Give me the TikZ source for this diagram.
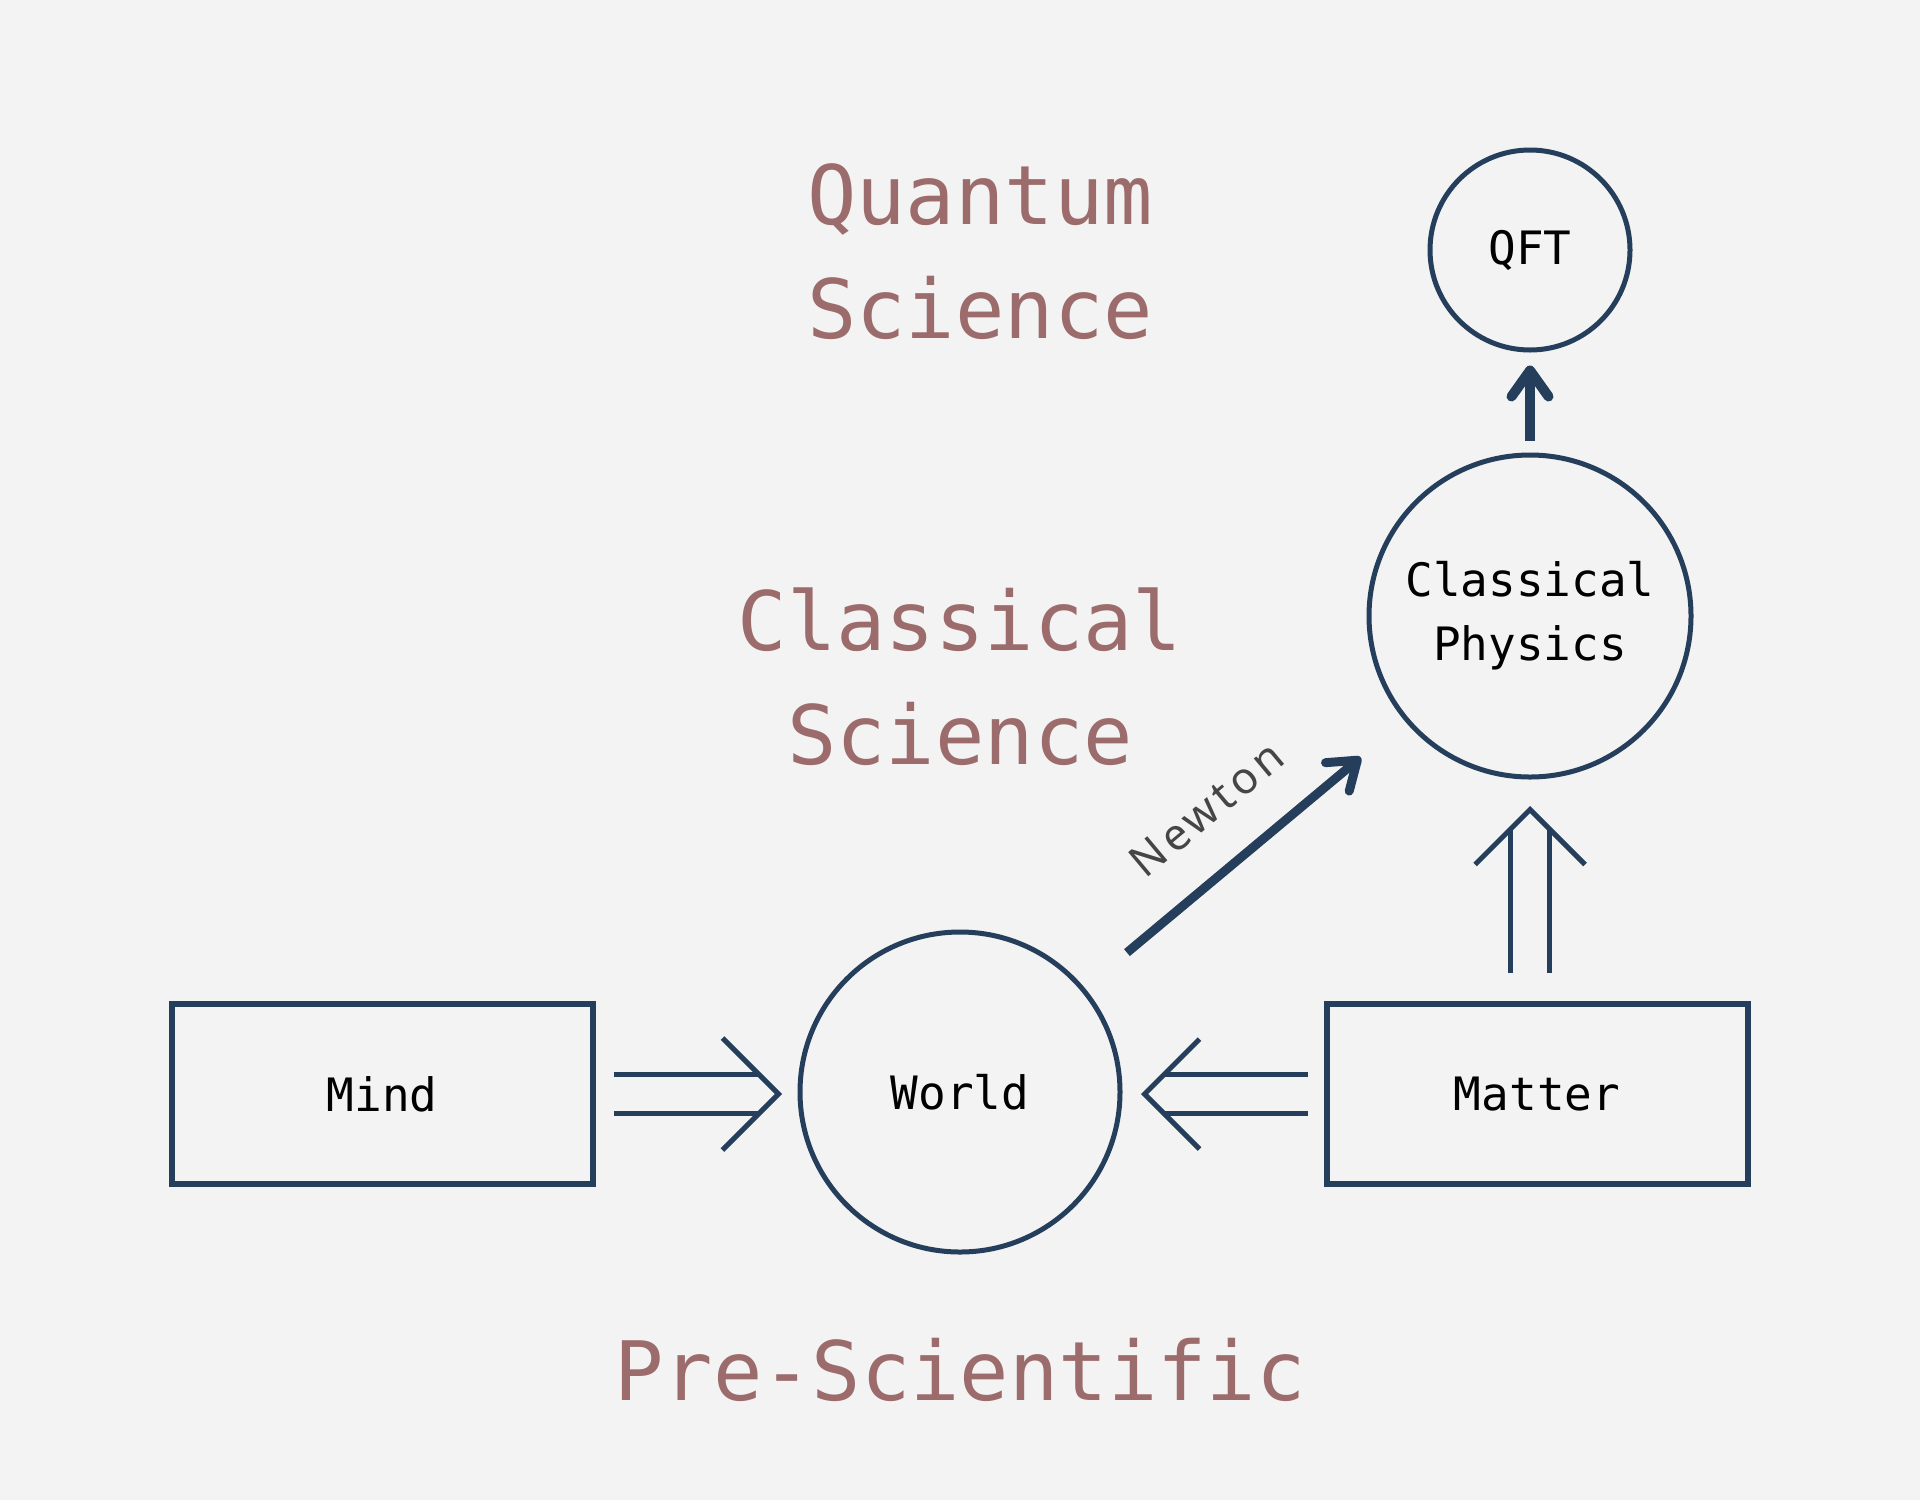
\documentclass[tikz,border=0pt]{standalone}
\usepackage{fontspec}
\setmainfont{DejaVu Sans Mono}
\setmonofont{DejaVu Sans Mono}
\newfontfamily\newtonfont[LetterSpace=10]{Noto Sans}
\usetikzlibrary{calc,positioning,arrows.meta}
\definecolor{bgc}{HTML}{F3F3F3}
\definecolor{navy}{HTML}{253E5C}
\definecolor{rose}{HTML}{9C6B6B}
\definecolor{ink}{HTML}{454545}

\begin{document}
\begin{tikzpicture}[x=0.5pt,y=-0.5pt,
  box/.style={draw=navy,line width=3pt,minimum width=210.5pt,minimum height=90pt,font=\fontsize{23}{32}\selectfont},
  ring/.style={draw=navy,circle,line width=2.5pt,inner sep=0pt,align=center,font=\fontsize{23}{32}\selectfont},
  era/.style={text=rose,align=center,font=\fontsize{41}{57}\selectfont},
  dbl/.style={draw=navy,line width=2.5pt,double=bgc,double distance=17pt},
  chev/.style={draw=navy,line width=2.5pt},
  barb/.style={-{Straight Barb[length=13pt,width=18.5pt,round]}}]
\fill[bgc] (0,0) rectangle (1920,1500);
% eras
\node[era] (quantum) at (980,252) {Quantum\\Science};
\node[era] (classical) at (960,677) {Classical\\Science};
\node[era,anchor=base] (pre) at (960,1400) {Pre-Scientific};
% nodes
\node[box] (Mind) at (382,1094) {Mind};
\node[box] (Matter) at (1537,1094) {Matter};
\node[ring,minimum size=160pt] (World) at (960,1092) {World};
\node[ring,minimum size=161pt] (CP) at (1530,616) {Classical\\Physics};
\node[ring,minimum size=100pt] (QFT) at (1530,250) {QFT};
% double arrows
\coordinate (mw) at ($(Mind.east -| World.west)+(-19,0)$);
\draw[dbl] ($(Mind.east)+(18,0)$) -- ($(mw)+(-19,0)$);
\draw[chev] ($(mw)+(-56,-56)$) -- (mw) -- ($(mw)+(-56,56)$);
\coordinate (rw) at ($(Matter.west -| World.east)+(22,0)$);
\draw[dbl] ($(Matter.west)+(-16,0)$) -- ($(rw)+(19,0)$);
\draw[chev] ($(rw)+(55,-55)$) -- (rw) -- ($(rw)+(55,55)$);
\coordinate (mc) at ($(CP.south)+(0,30)$);
\draw[dbl] ($(Matter.north -| mc)+(0,-28)$) -- ($(mc)+(0,19)$);
\draw[chev] ($(mc)+(-55,55)$) -- (mc) -- ($(mc)+(55,55)$);
% thick arrows
\draw[navy,line width=4.5pt,barb,shorten <=27.5pt,shorten >=28.5pt] (World) -- node[sloped,above=19.5pt,inner sep=0pt,text=ink,font=\newtonfont\fontsize{22}{26}\selectfont] (newton) {Newton} (CP);
\draw[navy,line width=5pt,barb,shorten <=6pt,shorten >=6.5pt] (CP) -- (QFT);
\end{tikzpicture}
\end{document}
